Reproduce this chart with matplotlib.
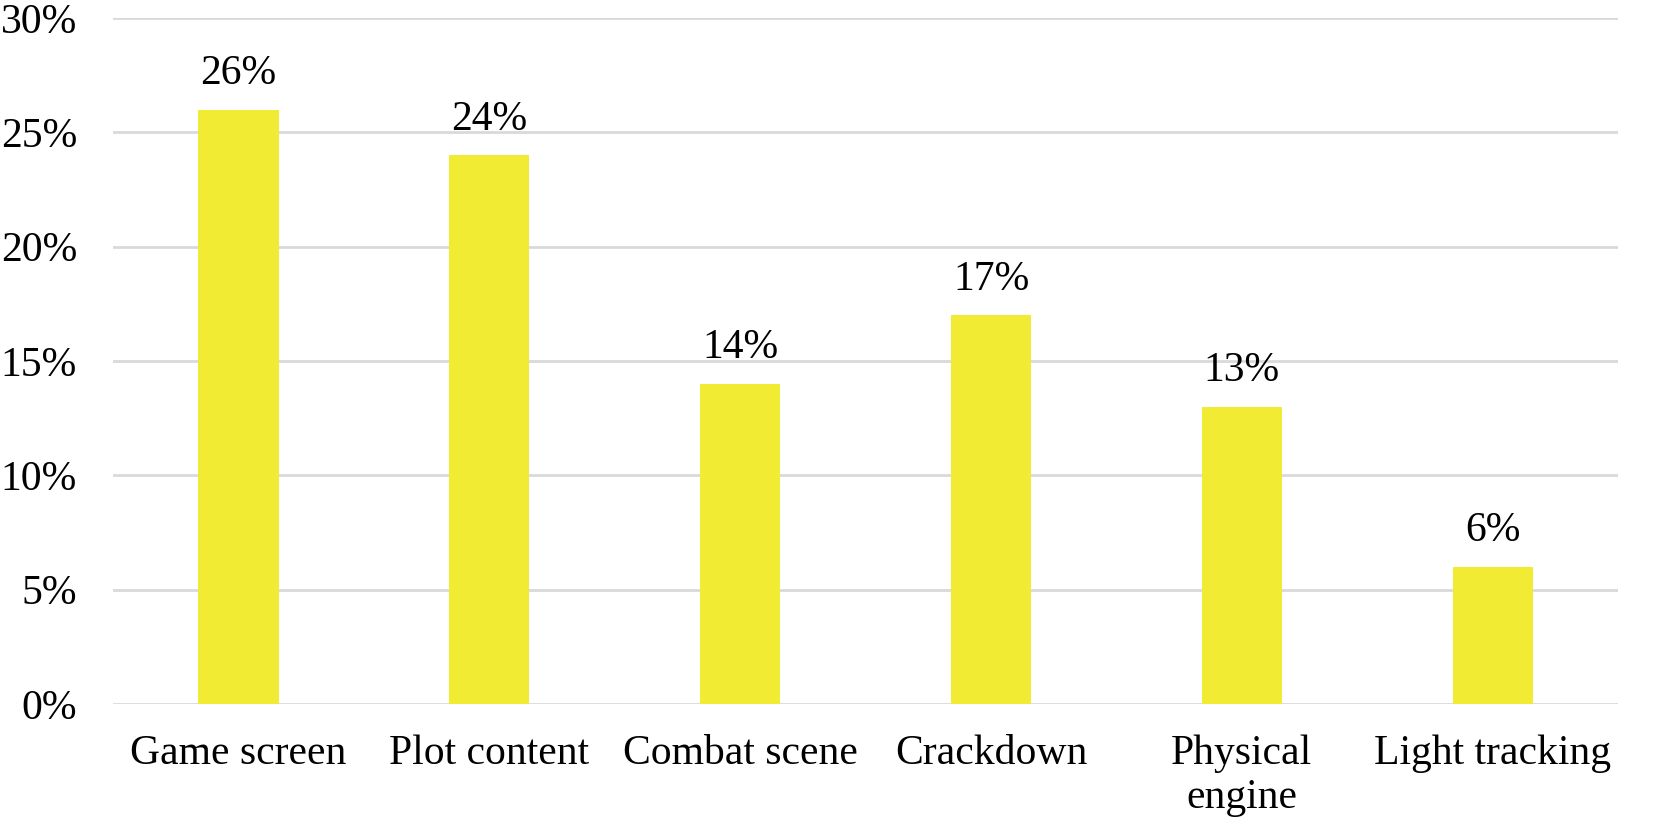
import matplotlib.pyplot as plt
from matplotlib.ticker import PercentFormatter

categories = ['Game screen', 'Plot content', 'Combat scene', 'Crackdown', 'Physical\nengine', 'Light tracking']
shares = [26, 24, 14, 17, 13, 6]
yticks = [0, 5, 10, 15, 20, 25, 30]

plt.rcParams['font.family'] = ['Liberation Serif', 'DejaVu Serif']

fig = plt.figure(figsize=(16.63, 8.27), dpi=100)
ax = fig.add_axes([0.068, 0.149, 0.905, 0.829])

x = range(len(categories))
bars = ax.bar(x, shares, width=0.32, color='#F2EB33', zorder=3)

for b, v in zip(bars, shares):
    ax.annotate(f'{v}%', (b.get_x() + b.get_width() / 2, v), xytext=(0, 12),
                textcoords='offset points', ha='center', va='bottom', fontsize=30)

ax.set_xlim(-0.5, len(categories) - 0.5)
ax.set_ylim(0, 30)
ax.set_yticks(yticks)
ax.yaxis.set_major_formatter(PercentFormatter(decimals=0))
ax.set_xticks(list(x))
ax.set_xticklabels(categories, linespacing=1.2)
ax.tick_params(axis='y', length=0, pad=26, labelsize=30)
ax.tick_params(axis='x', length=0, pad=22, labelsize=30)
ax.grid(axis='y', color='#d9d9d9', linewidth=2, zorder=0)
ax.set_axisbelow(True)
for s in ax.spines.values():
    s.set_visible(False)

fig.savefig('out.png', dpi=100)
